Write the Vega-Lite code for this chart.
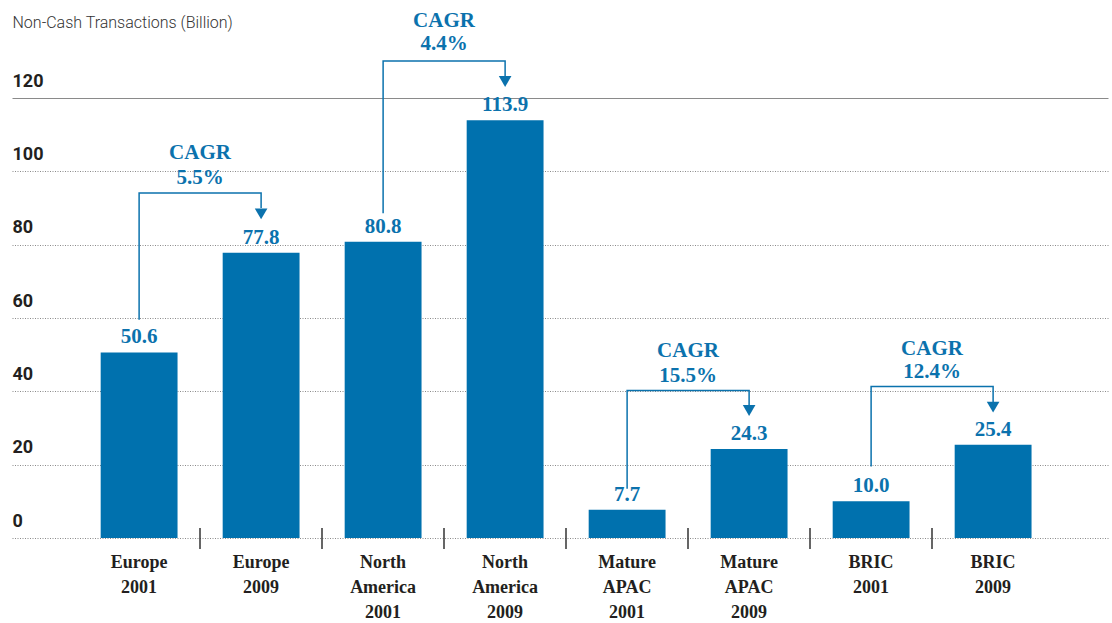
{
  "$schema": "https://vega.github.io/schema/vega-lite/v6.json",
  "width": 1096,
  "height": 538,
  "autosize": {"type": "none"},
  "padding": {"left": 12, "top": 0, "right": 4, "bottom": 85},
  "background": "white",
  "config": {"view": {"stroke": null}},
  "datasets": {
    "bars": [
      {"cat": "Europe 2001", "value": 50.6},
      {"cat": "Europe 2009", "value": 77.8},
      {"cat": "North America 2001", "value": 80.8},
      {"cat": "North America 2009", "value": 113.9},
      {"cat": "Mature APAC 2001", "value": 7.7},
      {"cat": "Mature APAC 2009", "value": 24.3},
      {"cat": "BRIC 2001", "value": 10.0},
      {"cat": "BRIC 2009", "value": 25.4}
    ],
    "brackets": [
      {"g": "E", "seq": 1, "cat": "Europe 2001", "v": 59.5},
      {"g": "E", "seq": 2, "cat": "Europe 2001", "v": 94.1},
      {"g": "E", "seq": 3, "cat": "Europe 2009", "v": 94.1},
      {"g": "E", "seq": 4, "cat": "Europe 2009", "v": 90.0},
      {"g": "NA", "seq": 1, "cat": "North America 2001", "v": 88.6},
      {"g": "NA", "seq": 2, "cat": "North America 2001", "v": 130.1},
      {"g": "NA", "seq": 3, "cat": "North America 2009", "v": 130.1},
      {"g": "NA", "seq": 4, "cat": "North America 2009", "v": 126.0},
      {"g": "AP", "seq": 1, "cat": "Mature APAC 2001", "v": 13.4},
      {"g": "AP", "seq": 2, "cat": "Mature APAC 2001", "v": 40.2},
      {"g": "AP", "seq": 3, "cat": "Mature APAC 2009", "v": 40.2},
      {"g": "AP", "seq": 4, "cat": "Mature APAC 2009", "v": 36.3},
      {"g": "BR", "seq": 1, "cat": "BRIC 2001", "v": 19.5},
      {"g": "BR", "seq": 2, "cat": "BRIC 2001", "v": 41.3},
      {"g": "BR", "seq": 3, "cat": "BRIC 2009", "v": 41.3},
      {"g": "BR", "seq": 4, "cat": "BRIC 2009", "v": 37.1}
    ],
    "arrows": [
      {"cat": "Europe 2009", "v": 88.4},
      {"cat": "North America 2009", "v": 124.5},
      {"cat": "Mature APAC 2009", "v": 34.8},
      {"cat": "BRIC 2009", "v": 35.7}
    ],
    "seps": [{"b": 1}, {"b": 2}, {"b": 3}, {"b": 4}, {"b": 5}, {"b": 6}, {"b": 7}],
    "cagr": [
      {"b": 1, "v": 103.4, "t": "CAGR"},
      {"b": 1, "v": 96.5, "t": "5.5%"},
      {"b": 3, "v": 139.4, "t": "CAGR"},
      {"b": 3, "v": 133.1, "t": "4.4%"},
      {"b": 5, "v": 49.5, "t": "CAGR"},
      {"b": 5, "v": 42.6, "t": "15.5%"},
      {"b": 7, "v": 49.9, "t": "CAGR"},
      {"b": 7, "v": 43.6, "t": "12.4%"}
    ]
  },
  "layer": [
    {
      "layer": [
        {
          "data": {"name": "bars"},
          "mark": {"type": "bar", "color": "#0071ae"},
          "encoding": {
            "x": {
              "field": "cat", "type": "nominal",
              "scale": {
                "domain": ["Europe 2001", "Europe 2009", "North America 2001", "North America 2009", "Mature APAC 2001", "Mature APAC 2009", "BRIC 2001", "BRIC 2009"],
                "paddingInner": 0.37, "paddingOuter": 0.6768, "align": 0.537
              },
              "axis": {
                "title": null, "domain": false, "ticks": false, "labelAngle": 0,
                "labelExpr": "split(datum.label, ' ')",
                "labelFont": "Liberation Serif", "labelFontWeight": "bold", "labelFontSize": 18,
                "labelColor": "#231f20", "labelLineHeight": 25, "labelPadding": 15, "labelBaseline": "top"
              }
            },
            "y": {
              "field": "value", "type": "quantitative",
              "scale": {"domain": [0, 146.73], "nice": false, "zero": true},
              "axis": {
                "values": [0, 20, 40, 60, 80, 100, 120],
                "title": "Non-Cash Transactions (Billion)",
                "titleAngle": 0, "titleAlign": "left", "titleBaseline": "alphabetic",
                "titleX": 0, "titleY": 27, "titleFont": "Roboto", "titleFontSize": 16,
                "titleFontWeight": 300, "titleColor": "#333333",
                "domain": false, "ticks": false, "tickSize": 0, "labelPadding": 0,
                "labelAlign": "left", "labelBaseline": "alphabetic", "labelOffset": -12,
                "labelFont": "Roboto", "labelFontSize": 18, "labelFontWeight": "bold", "labelColor": "#231f20",
                "labelFlush": false, "labelOverlap": false, "labelBound": false,
                "grid": true, "gridColor": "#8a8a8a", "gridWidth": 1,
                "gridDash": {"condition": {"test": "datum.value === 120", "value": []}, "value": [1, 1.5]}
              }
            }
          }
        },
        {
          "data": {"name": "bars"},
          "mark": {"type": "text", "font": "Liberation Serif", "fontWeight": "bold", "fontSize": 21, "color": "#0b72ad", "baseline": "alphabetic", "dy": -9},
          "encoding": {
            "x": {"field": "cat", "type": "nominal"},
            "y": {"field": "value", "type": "quantitative", "scale": {"domain": [0, 146.73], "nice": false}},
            "text": {"field": "value", "type": "quantitative", "format": ".1f"}
          }
        },
        {
          "data": {"name": "brackets"},
          "mark": {"type": "line", "color": "#0b72ad", "strokeWidth": 1.5},
          "encoding": {
            "x": {"field": "cat", "type": "nominal"},
            "y": {"field": "v", "type": "quantitative", "scale": {"domain": [0, 146.73], "nice": false}},
            "detail": {"field": "g"},
            "order": {"field": "seq", "type": "quantitative"}
          }
        },
        {
          "data": {"name": "arrows"},
          "mark": {"type": "point", "shape": "triangle-down", "filled": true, "size": 160, "color": "#0b72ad", "opacity": 1},
          "encoding": {
            "x": {"field": "cat", "type": "nominal"},
            "y": {"field": "v", "type": "quantitative", "scale": {"domain": [0, 146.73], "nice": false}}
          }
        }
      ]
    },
    {
      "layer": [
        {
          "data": {"name": "seps"},
          "mark": {"type": "rule", "color": "#333333", "strokeWidth": 1.5},
          "encoding": {
            "x": {"field": "b", "type": "quantitative", "scale": {"domain": [0, 8], "range": [66, 1042], "nice": false, "zero": false}, "axis": null},
            "y": {"datum": 2.7, "type": "quantitative"},
            "y2": {"datum": -3}
          }
        },
        {
          "data": {"name": "cagr"},
          "mark": {"type": "text", "font": "Liberation Serif", "fontWeight": "bold", "fontSize": 21, "color": "#0b72ad", "baseline": "alphabetic"},
          "encoding": {
            "x": {"field": "b", "type": "quantitative", "scale": {"domain": [0, 8], "range": [66, 1042], "nice": false, "zero": false}, "axis": null},
            "y": {"field": "v", "type": "quantitative", "scale": {"domain": [0, 146.73], "nice": false}},
            "text": {"field": "t"}
          }
        }
      ]
    }
  ],
  "resolve": {"scale": {"x": "independent"}, "axis": {"x": "independent"}}
}
